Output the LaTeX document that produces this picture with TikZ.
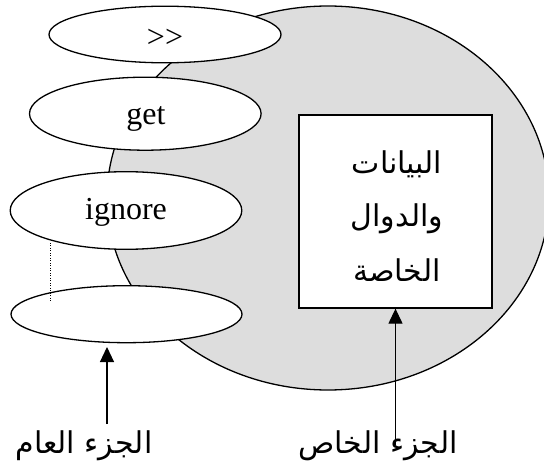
\documentclass[tikz,border=0pt]{standalone}
\usepackage{fontspec}
\setmainfont{Liberation Serif}
\newfontfamily\arabicfont[Script=Arabic]{DejaVu Sans}
\TeXXeTstate=1
\usetikzlibrary{shapes.geometric,arrows.meta}
\definecolor{shade}{RGB}{221,221,221}
\begin{document}
\begin{tikzpicture}[x=1pt,y=-1pt, line width=1.3pt,
  oval/.style={draw, fill=white, ellipse, inner sep=0pt},
  lbl/.style={anchor=base, inner sep=0pt, font=\fontsize{32}{36}\selectfont},
  ar/.style={anchor=base, inner sep=0pt, font=\arabicfont\fontsize{30}{36}\selectfont},
  arr/.style={-{Triangle[length=15pt,width=14pt]}},
  dotline/.style={line width=1pt, dash pattern=on 1pt off 1.5pt}]
\useasboundingbox (0,0) rectangle (544,473);
\draw[fill=shade] (328,198) ellipse [x radius=221pt, y radius=192pt];
\node[oval, minimum width=232pt, minimum height=56.6pt] (T) at (165,34.5) {};
\node[oval, minimum width=231.6pt, minimum height=73pt] (G) at (145.3,113.7) {};
\node[oval, minimum width=231.6pt, minimum height=77.6pt] (I) at (126,210.5) {};
\node[oval, minimum width=231pt, minimum height=57pt] (B) at (126.5,314.2) {};
\node[draw, fill=white, minimum width=193pt, minimum height=193pt, inner sep=0pt] (R) at (395.5,211.5) {};
\node[lbl] (tT) at (165,48) {>{}>};
\node[lbl] (tG) at (146,125) {get};
\node[lbl] (tI) at (126,220) {ignore};
\node[ar] (r1) at (397,174) {\beginR البيانات\endR};
\node[ar] (r2) at (397,227) {\beginR والدوال\endR};
\node[ar] (r3) at (397,282) {\beginR الخاصة\endR};
\node[ar] (L1) at (84,453) {\beginR الجزء العام\endR};
\node[ar] (L2) at (378,453) {\beginR الجزء الخاص\endR};
\coordinate (a1) at (107,424);
\coordinate (a1t) at (107,347);
\draw[arr, line width=1.1pt] (a1) -- (a1t);
\coordinate (a2) at (395.5,445);
\draw[arr, line width=1.1pt] (a2) -- (R.south);
\coordinate (d1) at (50,243);
\coordinate (d2) at (50,302);
\draw[dotline] (d1) -- (d2);
\end{tikzpicture}
\end{document}
